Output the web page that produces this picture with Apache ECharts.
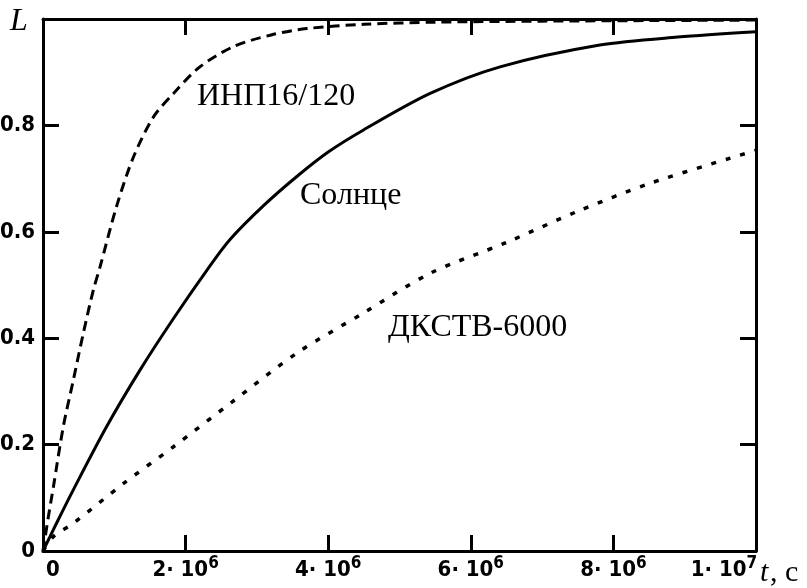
<!DOCTYPE html>
<html><head><meta charset="utf-8">
<script src="https://cdn.jsdelivr.net/npm/echarts@6/dist/echarts.min.js"></script>
<style>html,body{margin:0;padding:0;background:#fff}#c{width:807px;height:588px}</style>
</head><body><div id="c"></div>
<script>
// time in seconds, L dimensionless
const sunT  = [0, 0.2e6, 0.425e6, 0.893e6, 1.36e6, 1.83e6, 2.3e6, 2.62e6, 3.1e6, 3.56e6, 4.0e6, 4.49e6, 5.43e6, 6.41e6, 7.81e6, 8.9e6, 10e6];
const sunL  = [0, 0.055, 0.115, 0.234, 0.34, 0.437, 0.528, 0.585, 0.65, 0.704, 0.75, 0.791, 0.86, 0.91, 0.951, 0.966, 0.976];
const inpT  = [0, 0.07e6, 0.145e6, 0.285e6, 0.425e6, 0.565e6, 0.705e6, 0.8e6, 1.03e6, 1.27e6, 1.55e6, 1.83e6, 2.2e6, 2.67e6, 3.2e6, 3.7e6, 4.5e6, 5.5e6, 7.0e6, 8.5e6, 10e6];
const inpL  = [0, 0.06, 0.12, 0.234, 0.321, 0.409, 0.49, 0.534, 0.647, 0.741, 0.816, 0.86, 0.91, 0.948, 0.97, 0.982, 0.99, 0.994, 0.996, 0.997, 0.998];
const dkstT = [0, 0.145e6, 0.425e6, 1.13e6, 1.83e6, 2.65e6, 3.56e6, 4.49e6, 5.43e6, 6.5e6, 7.49e6, 8.51e6, 10e6];
const dkstL = [0, 0.027, 0.052, 0.127, 0.196, 0.28, 0.372, 0.447, 0.522, 0.58, 0.638, 0.691, 0.753];

const xTickBases = ['0', '2· 10', '4· 10', '6· 10', '8· 10', '1· 10'];
const xTickExps  = ['', '6', '6', '6', '6', '7'];
const yTickLabels = ['0', '0.2', '0.4', '0.6', '0.8', ''];
const curveNames = ['ИНП16/120', 'Солнце', 'ДКСТВ-6000'];

const zip = (a, b) => a.map((v, i) => [v, b[i]]);
const tickFont = "'Liberation Sans Narrow','DejaVu Sans Condensed',sans-serif";
const serif = "'Liberation Serif','DejaVu Serif',serif";
const axisLine = {show: true, onZero: false, lineStyle: {color: '#000', width: 3}};
const axisTick = {show: true, inside: true, length: 16, lineStyle: {color: '#000', width: 3}};
const tickSize = 22;

const chart = echarts.init(document.getElementById('c'));
chart.setOption({
  animation: false,
  backgroundColor: '#fff',
  grid: {left: 43, right: 51, top: 19, bottom: 37, containLabel: false, outerBoundsMode: 'none'},
  xAxis: [
    {type: 'value', min: 0, max: 1e7, interval: 2e6, position: 'bottom',
     axisLine, axisTick, splitLine: {show: false},
     axisLabel: {
       margin: 4, color: '#000', hideOverlap: false,
       formatter: function (v) {
         const i = Math.round(v / 2e6);
         if (!xTickExps[i]) return '{z|' + xTickBases[i] + '}';
         const sup = (i === xTickBases.length - 1) ? 'e' : 's';
         return '{b|' + xTickBases[i] + '}{' + sup + '|' + xTickExps[i] + '}';
       },
       rich: {
         z: {fontFamily: tickFont, fontWeight: 'bold', fontSize: tickSize, lineHeight: 22, padding: [8, 0, 0, 20]},
         b: {fontFamily: tickFont, fontWeight: 'bold', fontSize: tickSize, lineHeight: 22, padding: [8, 0, 0, 0]},
         s: {fontFamily: tickFont, fontWeight: 'bold', fontSize: 17, lineHeight: 17, verticalAlign: 'top'},
         e: {fontFamily: tickFont, fontWeight: 'bold', fontSize: 17, lineHeight: 17, verticalAlign: 'top', padding: [0, 64, 0, 0]}
       }
     }},
    {type: 'value', min: 0, max: 1e7, interval: 2e6, position: 'top',
     axisLine, axisTick, splitLine: {show: false}, axisLabel: {show: false}}
  ],
  yAxis: [
    {type: 'value', min: 0, max: 1, interval: 0.2, position: 'left',
     axisLine, axisTick, splitLine: {show: false},
     axisLabel: {margin: 8, color: '#000', fontFamily: tickFont, fontWeight: 'bold', fontSize: tickSize,
       formatter: function (v) { return yTickLabels[Math.round(v / 0.2)]; }}},
    {type: 'value', min: 0, max: 1, interval: 0.2, position: 'right',
     axisLine, axisTick, splitLine: {show: false}, axisLabel: {show: false}}
  ],
  series: [
    {name: curveNames[0], type: 'line', data: zip(inpT, inpL), smooth: 0.3, showSymbol: false,
     lineStyle: {color: '#000', width: 3, type: [10, 6]}},
    {name: curveNames[1], type: 'line', data: zip(sunT, sunL), smooth: 0.3, showSymbol: false,
     lineStyle: {color: '#000', width: 3, type: 'solid'}},
    {name: curveNames[2], type: 'line', data: zip(dkstT, dkstL), smooth: 0.3, showSymbol: false,
     lineStyle: {color: '#000', width: 3.5, type: [5, 10]}}
  ],
  graphic: [
    {type: 'text', left: 10, top: 6, style: {text: 'L', font: 'italic 32px ' + serif, fill: '#000'}},
    {type: 'text', x: 197, y: 97, style: {text: curveNames[0], font: '32px ' + serif, fill: '#000', verticalAlign: 'middle'}},
    {type: 'text', x: 300, y: 196, style: {text: curveNames[1], font: '32px ' + serif, fill: '#000', verticalAlign: 'middle'}},
    {type: 'text', x: 388, y: 328, style: {text: curveNames[2], font: '32px ' + serif, fill: '#000', verticalAlign: 'middle'}},
    {type: 'text', x: 760, y: 573, style: {text: 't', font: 'italic 30px ' + serif, fill: '#000', verticalAlign: 'middle'}},
    {type: 'text', x: 770, y: 573, style: {text: ', с', font: '30px ' + serif, fill: '#000', verticalAlign: 'middle'}}
  ]
});
</script>
</body></html>
